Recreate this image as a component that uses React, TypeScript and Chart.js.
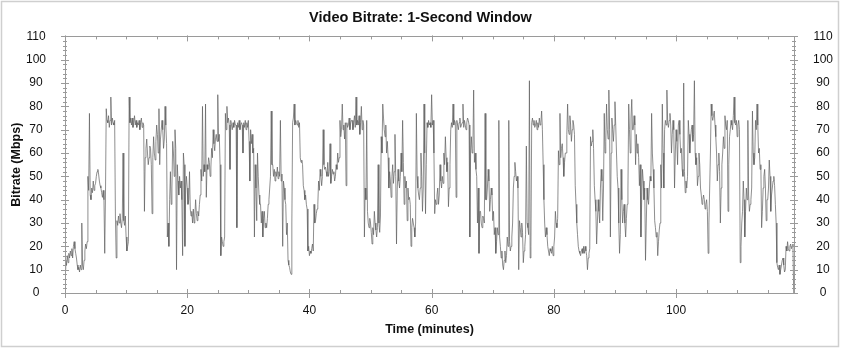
import React, { useEffect, useRef } from "react";
import { Chart, registerables } from "chart.js";

Chart.register(...registerables);

// Sampling step of the series (minutes)
const sampleStepMinutes = 0.125;

// Bitrate (Mbps), one row per minute (8 samples per minute)
const bitrateMbps: number[] = [
  10, 14, 12, 16, 13, 17, 15, 18,
  16, 19, 15, 20, 22, 19, 17, 15,
  12, 10, 11, 9, 12, 10, 30, 12,
  10, 14, 18, 21, 19, 22, 50, 44,
  77, 42, 40, 45, 43, 48, 44, 46,
  47, 50, 52, 53, 51, 48, 46, 45,
  43, 41, 44, 40, 17, 42, 79, 74,
  73, 76, 71, 74, 84, 72, 75, 73,
  72, 74, 33, 15, 31, 29, 33, 30,
  34, 30, 28, 32, 60, 31, 29, 33,
  24, 18, 20, 22, 84, 73, 75, 72,
  75, 71, 73, 76, 72, 74, 71, 73,
  72, 74, 70, 73, 75, 71, 73, 72,
  35, 58, 62, 66, 60, 55, 58, 63,
  62, 55, 34, 58, 67, 60, 57, 65,
  72, 68, 60, 79, 55, 66, 70, 74,
  70, 62, 66, 80, 72, 64, 24, 30,
  20, 40, 52, 38, 45, 65, 60, 50,
  70, 62, 10, 55, 48, 42, 50, 45,
  48, 40, 16, 60, 55, 20, 45, 50,
  45, 38, 40, 52, 36, 33, 35, 30,
  36, 30, 33, 40, 34, 31, 35, 33,
  38, 42, 53, 48, 80, 50, 55, 52,
  81, 41, 55, 53, 58, 56, 50, 54,
  62, 58, 70, 64, 61, 66, 68, 65,
  85, 65, 68, 55, 16, 24, 22, 20,
  22, 24, 77, 70, 80, 73, 75, 72,
  53, 74, 72, 70, 73, 71, 74, 72,
  72, 28, 73, 71, 74, 70, 72, 73,
  72, 60, 73, 71, 74, 70, 73, 71,
  74, 65, 48, 70, 64, 68, 60, 62,
  24, 55, 45, 31, 60, 50, 42, 38,
  38, 30, 35, 24, 32, 35, 28, 30,
  28, 32, 38, 40, 45, 50, 78, 55,
  55, 50, 53, 48, 52, 50, 54, 49,
  52, 50, 74, 48, 51, 20, 48, 45,
  40, 38, 25, 30, 14, 12, 11, 9,
  8, 30, 73, 75, 81, 72, 74, 73,
  72, 74, 71, 73, 58, 56, 57, 55,
  46, 44, 40, 42, 38, 36, 18, 20,
  16, 18, 17, 19, 21, 18, 38, 30,
  31, 34, 36, 38, 48, 44, 53, 50,
  46, 50, 70, 55, 53, 54, 52, 50,
  56, 50, 52, 64, 47, 50, 53, 51,
  52, 48, 50, 55, 53, 60, 56, 58,
  74, 67, 70, 81, 70, 72, 66, 73,
  46, 73, 71, 72, 75, 70, 73, 74,
  74, 70, 73, 76, 71, 84, 72, 74,
  72, 76, 68, 73, 80, 70, 74, 72,
  24, 45, 40, 74, 35, 30, 28, 32,
  30, 26, 21, 28, 25, 35, 30, 27,
  24, 28, 55, 30, 26, 33, 67, 60,
  81, 75, 70, 67, 72, 60, 65, 58,
  45, 52, 48, 41, 50, 55, 47, 52,
  68, 50, 21, 45, 53, 48, 45, 50,
  60, 52, 74, 56, 38, 50, 45, 48,
  31, 45, 40, 41, 38, 20, 28, 32,
  30, 28, 24, 30, 77, 50, 45, 42,
  40, 45, 60, 50, 35, 45, 81, 60,
  34, 55, 73, 71, 74, 72, 73, 71,
  85, 72, 74, 60, 34, 40, 38, 42,
  45, 38, 42, 55, 48, 45, 50, 47,
  60, 55, 67, 58, 52, 56, 37, 45,
  55, 70, 73, 71, 81, 72, 74, 73,
  41, 74, 72, 70, 73, 75, 71, 72,
  73, 81, 71, 74, 72, 70, 73, 75,
  74, 72, 24, 60, 67, 60, 62, 87,
  56, 60, 53, 50, 30, 45, 17, 35,
  35, 30, 28, 33, 32, 30, 77, 40,
  40, 45, 53, 48, 35, 40, 45, 42,
  31, 35, 25, 28, 17, 22, 28, 25,
  74, 24, 20, 15, 18, 12, 10, 14,
  18, 13, 16, 24, 20, 74, 22, 18,
  20, 24, 30, 45, 50, 56, 52, 48,
  50, 45, 10, 31, 28, 24, 30, 26,
  13, 18, 20, 25, 63, 30, 28, 25,
  91, 15, 20, 73, 75, 72, 74, 71,
  72, 74, 70, 73, 71, 75, 72, 73,
  78, 70, 55, 40, 30, 24, 28, 25,
  20, 18, 16, 19, 18, 17, 20, 16,
  20, 24, 35, 30, 28, 32, 61, 55,
  77, 58, 62, 64, 58, 50, 56, 60,
  60, 68, 81, 70, 68, 76, 72, 65,
  70, 74, 72, 68, 46, 38, 30, 25,
  20, 18, 17, 16, 18, 19, 17, 20,
  17, 20, 18, 16, 10, 15, 17, 19,
  67, 63, 65, 70, 62, 46, 40, 35,
  21, 30, 40, 35, 30, 45, 53, 48,
  31, 45, 77, 60, 65, 81, 70, 66,
  87, 70, 24, 60, 75, 70, 65, 72,
  82, 72, 60, 50, 45, 30, 17, 25,
  53, 40, 30, 35, 38, 30, 24, 32,
  38, 45, 81, 70, 60, 75, 83, 70,
  70, 76, 72, 55, 68, 60, 64, 58,
  46, 55, 24, 40, 53, 48, 40, 45,
  14, 30, 45, 40, 38, 45, 50, 48,
  77, 60, 53, 45, 31, 28, 24, 26,
  16, 22, 27, 30, 55, 45, 81, 60,
  45, 70, 74, 72, 87, 73, 71, 74,
  77, 72, 60, 68, 74, 70, 45, 60,
  70, 65, 55, 72, 74, 68, 60, 62,
  53, 50, 90, 52, 43, 48, 45, 50,
  74, 68, 60, 66, 70, 72, 65, 68,
  91, 60, 55, 58, 46, 50, 60, 55,
  45, 42, 38, 40, 42, 40, 36, 38,
  40, 35, 17, 30, 45, 60, 81, 76,
  74, 76, 78, 72, 67, 60, 48, 55,
  60, 52, 30, 45, 55, 60, 67, 62,
  76, 72, 70, 74, 35, 55, 67, 70,
  74, 72, 70, 76, 84, 73, 72, 74,
  67, 72, 74, 70, 13, 20, 30, 35,
  48, 40, 24, 35, 45, 40, 74, 42,
  35, 38, 40, 45, 78, 60, 55, 58,
  74, 70, 81, 72, 60, 62, 53, 55,
  28, 35, 45, 50, 53, 45, 31, 40,
  40, 45, 57, 50, 35, 42, 45, 48,
  50, 46, 38, 30, 13, 11, 10, 12,
  8, 10, 12, 14, 15, 12, 9, 10,
  20, 18, 22, 19, 18, 20, 21, 19,
  20, 21, 0,
];

// Time of each sample (minutes)
const timeMinutes: number[] = bitrateMbps.map((_, i) => i * sampleStepMinutes);

const xTickValues: number[] = [0, 20, 40, 60, 80, 100];
const yTickValues: number[] = [0, 10, 20, 30, 40, 50, 60, 70, 80, 90, 100, 110];
const xMax = 119.3;
const yMax = 110;

const FONT = "'Liberation Sans', Arial, sans-serif";

const framePlugin = {
  id: "frameTicks",
  beforeDraw(chart: any) {
    const ctx = chart.ctx;
    ctx.save();
    ctx.fillStyle = "#ffffff";
    ctx.fillRect(0, 0, chart.width, chart.height);
    ctx.strokeStyle = "#cfcfcf";
    ctx.lineWidth = 1.5;
    ctx.strokeRect(1.5, 1.5, chart.width - 4, chart.height - 5);
    ctx.restore();
  },
  afterDatasetsDraw(chart: any) {
    const ctx = chart.ctx;
    const { left, right, top, bottom } = chart.chartArea;
    const xs = chart.scales.x;
    const ys = chart.scales.y;
    ctx.save();
    ctx.strokeStyle = "#9a9a9a";
    ctx.lineWidth = 1;
    ctx.beginPath();
    ctx.rect(Math.round(left) + 0.5, Math.round(top) + 0.5, Math.round(right - left), Math.round(bottom - top));
    ctx.stroke();
    ctx.beginPath();
    for (let v = 0; v <= yMax; v += 2) {
      const py = Math.round(ys.getPixelForValue(v)) + 0.5;
      const len = v % 10 === 0 ? 4 : 2;
      ctx.moveTo(left - len, py);
      ctx.lineTo(left + len, py);
      ctx.moveTo(right - len, py);
      ctx.lineTo(right + len, py);
    }
    for (let v = 0; v <= xMax; v += 5) {
      const px = Math.round(xs.getPixelForValue(v)) + 0.5;
      const major = v % 20 === 0;
      if (major) {
        ctx.moveTo(px, bottom - 4);
        ctx.lineTo(px, bottom + 5);
        ctx.moveTo(px, top - 1);
        ctx.lineTo(px, top + 5);
      } else {
        ctx.moveTo(px, bottom - 3);
        ctx.lineTo(px, bottom);
        ctx.moveTo(px, top);
        ctx.lineTo(px, top + 3);
      }
    }
    ctx.stroke();
    ctx.restore();
  },
};

export default function App() {
  const canvasRef = useRef<HTMLCanvasElement | null>(null);

  useEffect(() => {
    if (!canvasRef.current) return;
    const points = timeMinutes.map((t, i) => ({ x: t, y: bitrateMbps[i] }));
    const yAxisCommon = {
      type: "linear" as const,
      min: 0,
      max: yMax,
      grid: { display: false },
      border: { display: false },
      afterBuildTicks: (scale: any) => {
        scale.ticks = yTickValues.map((v) => ({ value: v }));
      },
    };
    const chart = new Chart(canvasRef.current, {
      type: "line",
      data: {
        datasets: [
          {
            data: points,
            yAxisID: "y",
            borderColor: "rgba(95,95,95,0.7)",
            borderWidth: 1,
            pointRadius: 0,
            tension: 0,
            fill: false,
          },
        ],
      },
      options: {
        responsive: false,
        animation: false,
        layout: { padding: 0 },
        plugins: {
          legend: { display: false },
          tooltip: { enabled: false },
          title: {
            display: true,
            text: "Video Bitrate: 1-Second Window",
            color: "#111",
            font: { family: FONT, size: 14.5, weight: "bold" },
            padding: { top: 9, bottom: 10 },
          },
        },
        scales: {
          x: {
            type: "linear",
            min: 0,
            max: xMax,
            grid: { display: false },
            border: { display: false },
            afterBuildTicks: (scale: any) => {
              scale.ticks = xTickValues.map((v) => ({ value: v }));
            },
            afterFit: (scale: any) => {
              scale.height = 57;
            },
            ticks: {
              color: "#111",
              font: { family: FONT, size: 12 },
              padding: 2,
              maxRotation: 0,
            },
            title: {
              display: true,
              text: "Time (minutes)",
              color: "#111",
              font: { family: FONT, size: 12.5, weight: "bold" },
              padding: { top: 4, bottom: 13 },
            },
          },
          y: {
            ...yAxisCommon,
            position: "left",
            afterFit: (scale: any) => {
              scale.width = 65;
            },
            ticks: {
              color: "#111",
              font: { family: FONT, size: 12 },
              padding: 11,
              crossAlign: "center",
            },
            title: {
              display: true,
              text: "Bitrate (Mbps)",
              color: "#111",
              font: { family: FONT, size: 12.5, weight: "bold" },
              padding: { top: 9, bottom: 4 },
            },
          },
          y2: {
            ...yAxisCommon,
            position: "right",
            afterFit: (scale: any) => {
              scale.width = 47;
            },
            ticks: {
              color: "#111",
              font: { family: FONT, size: 12 },
              padding: 11,
              crossAlign: "center",
            },
          },
        },
      },
      plugins: [framePlugin],
    });
    return () => chart.destroy();
  }, []);

  return (
    <div style={{ position: "absolute", left: 0, top: 0, width: 841, height: 350 }}>
      <canvas ref={canvasRef} width={841} height={350} />
    </div>
  );
}
